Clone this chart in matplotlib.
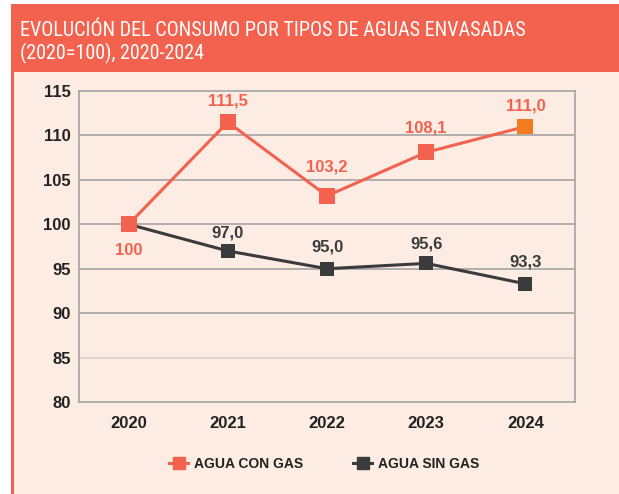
import matplotlib
matplotlib.use("Agg")
import matplotlib.pyplot as plt
from matplotlib.patches import Rectangle
from matplotlib.lines import Line2D
from matplotlib import font_manager

years = ["2020", "2021", "2022", "2023", "2024"]
con_gas = [100.0, 111.5, 103.2, 108.1, 111.0]
sin_gas = [100.0, 97.0, 95.0, 95.6, 93.3]
con_labels = ["100", "111,5", "103,2", "108,1", "111,0"]
sin_labels = ["", "97,0", "95,0", "95,6", "93,3"]
yticks = [80, 85, 90, 95, 100, 105, 110, 115]

names = {f.name for f in font_manager.fontManager.ttflist}
narrow = "Liberation Sans"
for cand in ["Roboto Condensed", "Liberation Sans Narrow", "Arial Narrow"]:
    if cand in names:
        narrow = cand
        break
sans = "Liberation Sans"

CORAL = "#F2624E"
ORANGE = "#F47A20"
DARK = "#3A3B3D"
BG = "#FDECE4"
GRID = "#A3A3A3"

# label offsets (pixels, positive = above)
con_off = [-26, 21, 29, 24, 21]
sin_off = [0, 18, 22, 19, 22]

W, H = 619, 494
fig = plt.figure(figsize=(W / 100, H / 100), dpi=100)
fig.patch.set_facecolor("white")

def fx(x):
    return x / W

def fy(y):
    return 1 - y / H

fig.patches.append(Rectangle((fx(11), 0), 1 - fx(11), fy(4), transform=fig.transFigure,
                             facecolor=BG, edgecolor="none", zorder=-3))
fig.patches.append(Rectangle((fx(11), fy(72)), 1 - fx(11), fy(4) - fy(72), transform=fig.transFigure,
                             facecolor=CORAL, edgecolor="none", zorder=-2))
fig.patches.append(Rectangle((fx(11), 0), fx(3), fy(4), transform=fig.transFigure,
                             facecolor=CORAL, edgecolor="none", zorder=-2))

t1 = fig.text(fx(20), fy(30), "EVOLUCIÓN DEL CONSUMO POR TIPOS DE AGUAS ENVASADAS",
              color="white", fontsize=14, family=narrow, va="center", ha="left")
t2 = fig.text(fx(20), fy(53), "(2020=100), 2020-2024",
              color="white", fontsize=14, family=narrow, va="center", ha="left")
renderer = fig.canvas.get_renderer()
w1 = t1.get_window_extent(renderer).width
fs = 14 * 507 / w1
t1.set_fontsize(fs)
t2.set_fontsize(fs)

ax = fig.add_axes([fx(79), fy(402), fx(575) - fx(79), fy(91) - fy(402)], zorder=2)
ax.set_facecolor(BG)
x = list(range(len(years)))
ax.set_xlim(-0.5, len(years) - 0.5)
ax.set_ylim(80, 115)
ax.set_yticks(yticks)
ax.set_xticks(x)
ax.set_xticklabels(years)
for t in yticks:
    if t in (80, 115):
        continue
    ax.axhline(t, color="#D6D3D1" if t == 85 else GRID, lw=1.2, zorder=1)
for s in ax.spines.values():
    s.set_color(GRID)
    s.set_linewidth(1.2)
ax.tick_params(axis="y", length=0, pad=6)
ax.tick_params(axis="x", length=0, pad=10)
for lab in ax.get_yticklabels() + ax.get_xticklabels():
    lab.set_fontfamily(sans)
    lab.set_fontweight("bold")
    lab.set_fontsize(12)
    lab.set_color("#222222")

ax.plot(x, sin_gas, color=DARK, lw=2.2, zorder=3)
ax.scatter(x, sin_gas, marker="s", s=115, c=DARK, zorder=3.5, linewidths=0)
ax.plot(x, con_gas, color=CORAL, lw=2.2, zorder=4)
mcols = [CORAL] * (len(x) - 1) + [ORANGE]
ax.scatter(x, con_gas, marker="s", s=130, c=mcols, zorder=5, linewidths=0)

for i, (v, l) in enumerate(zip(con_gas, con_labels)):
    ax.annotate(l, (i, v), xytext=(0, con_off[i] * 0.72), textcoords="offset points",
                ha="center", va="center", color=CORAL, fontsize=12, fontweight="bold", family=sans)
for i, (v, l) in enumerate(zip(sin_gas, sin_labels)):
    if l:
        ax.annotate(l, (i, v), xytext=(0, sin_off[i] * 0.72), textcoords="offset points",
                    ha="center", va="center", color=DARK, fontsize=12, fontweight="bold", family=sans)

handles = [Line2D([], [], color=CORAL, lw=2.2, marker="s", ms=8),
           Line2D([], [], color=DARK, lw=2.2, marker="s", ms=8)]
leg = fig.legend(handles, ["AGUA CON GAS", "AGUA SIN GAS"], loc="center",
                 bbox_to_anchor=(fx(324), fy(464)), ncol=2, frameon=False,
                 handlelength=1.4, handletextpad=0.4, columnspacing=3.6,
                 prop={"family": sans, "weight": "bold", "size": 10})
for t in leg.get_texts():
    t.set_color("#222222")

fig.savefig("out.png", dpi=100, facecolor=fig.get_facecolor())
